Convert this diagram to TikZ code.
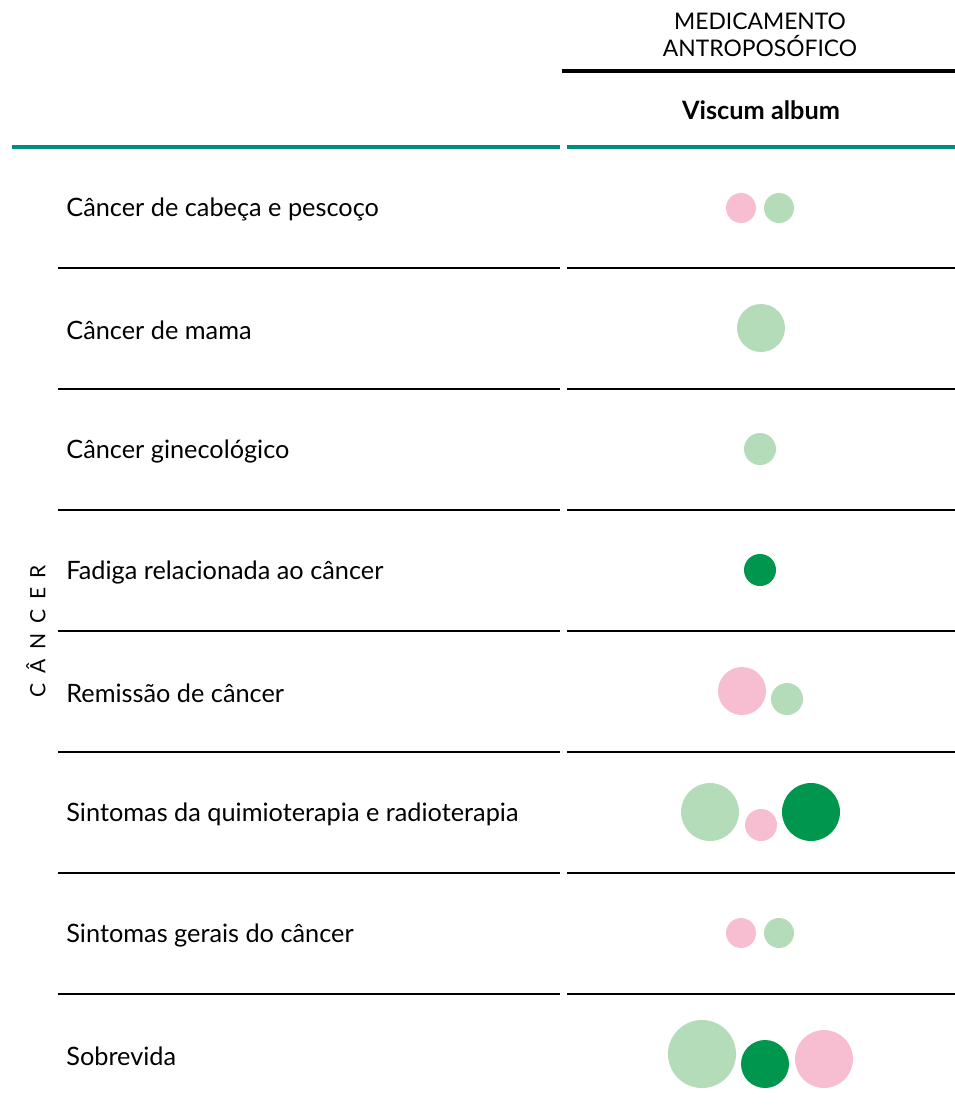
\documentclass[tikz,border=0pt]{standalone}
\usepackage{fontspec}
\setmainfont{Lato}
\definecolor{tealrule}{RGB}{0,140,130}
\definecolor{mintgreen}{RGB}{181,220,184}
\definecolor{rosepink}{RGB}{247,190,210}
\definecolor{deepgreen}{RGB}{0,150,78}
\tikzset{>=latex,
  rowlabel/.style={anchor=west, inner sep=0pt, font=\fontsize{14.4}{17}\selectfont},
  headtext/.style={align=center, inner sep=0pt, font=\fontsize{13}{15.3}\selectfont},
  rowrule/.style={line width=0.8pt},
  mint/.style={fill=mintgreen},
  rose/.style={fill=rosepink},
  deep/.style={fill=deepgreen}}

\begin{document}
\begin{tikzpicture}[x=0.02cm, y=-0.02cm, line join = round]
    \useasboundingbox (0,0) rectangle (955,1106);
    % header
    \node[headtext] (medicamento) at (760,35) {MEDICAMENTO\\ANTROPOSÓFICO};
    \draw[line width=2.4pt] (562,71) -- (955,71);
    \node[headtext, font=\fontsize{14.4}{17}\selectfont\bfseries] (viscum) at (761,110) {Viscum album};
    \draw[line width=2.3pt, tealrule] (12,147) -- (560,147);
    \draw[line width=2.3pt, tealrule] (567,147) -- (955,147);

    % row labels
    \node[rowlabel] (cabeca) at (66,209) {Câncer de cabeça e pescoço};
    \node[rowlabel] (mama) at (66,330) {Câncer de mama};
    \node[rowlabel] (gineco) at (66,451) {Câncer ginecológico};
    \node[rowlabel] (fadiga) at (66,572) {Fadiga relacionada ao câncer};
    \node[rowlabel] (remissao) at (66,693) {Remissão de câncer};
    \node[rowlabel] (quimio) at (66,814) {Sintomas da quimioterapia e radioterapia};
    \node[rowlabel] (gerais) at (66,935) {Sintomas gerais do câncer};
    \node[rowlabel] (sobrevida) at (66,1056) {Sobrevida};
    \node[rotate=90, inner sep=0pt, font=\fontsize{12}{14}\selectfont] (cancer) at (36,631)
        {C\hspace{5.5pt}Â\hspace{5.5pt}N\hspace{5.5pt}C\hspace{5.5pt}E\hspace{5.5pt}R};

    % row separators
    \foreach \y in {268,389,510,631,752,873,994}{
        \draw[rowrule] (58,\y) -- (560,\y);
        \draw[rowrule] (567,\y) -- (955,\y);
    }

    % evidence circles
    \fill[rose] (741,208) circle (15);
    \fill[mint] (779,208) circle (15);
    \fill[mint] (761,328) circle (24);
    \fill[mint] (760,449) circle (16);
    \fill[deep] (760,570) circle (16);
    \fill[rose] (742,691) circle (24);
    \fill[mint] (787,699) circle (16);
    \fill[mint] (710,812) circle (29);
    \fill[rose] (761,825) circle (16);
    \fill[deep] (811,812) circle (29);
    \fill[rose] (741,933) circle (15);
    \fill[mint] (779,933) circle (15);
    \fill[mint] (702,1054) circle (34);
    \fill[deep] (765,1064) circle (24);
    \fill[rose] (824,1059) circle (29);
\end{tikzpicture}
\end{document}
